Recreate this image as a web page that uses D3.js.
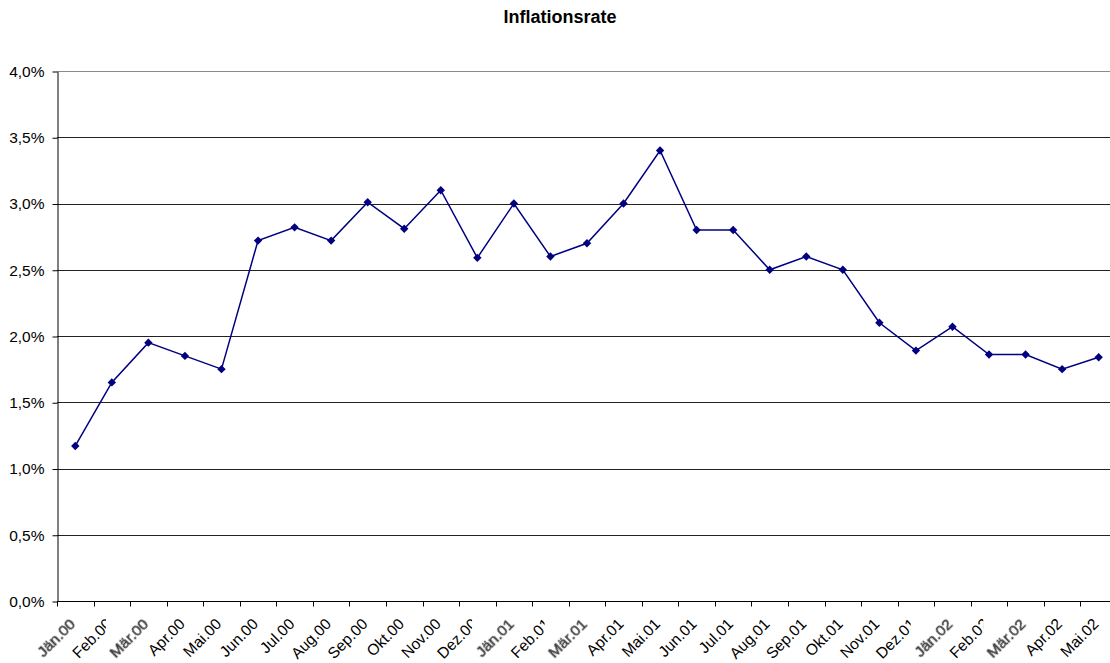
<!DOCTYPE html>
<html>
<head>
<meta charset="utf-8">
<script src="https://cdn.jsdelivr.net/npm/d3@7"></script>
<style>
  html, body { margin: 0; padding: 0; background: #fff; }
  svg { display: block; font-family: "Liberation Sans", Arial, sans-serif; }
</style>
</head>
<body>
<svg id="chart" width="1110" height="663"></svg>
<script>
// Monthly inflation rate, January 2000 to May 2002 (percent)
const months = [
  "Jän.00", "Feb.00", "Mär.00", "Apr.00", "Mai.00", "Jun.00", "Jul.00", "Aug.00", "Sep.00", "Okt.00", "Nov.00", "Dez.00",
  "Jän.01", "Feb.01", "Mär.01", "Apr.01", "Mai.01", "Jun.01", "Jul.01", "Aug.01", "Sep.01", "Okt.01", "Nov.01", "Dez.01",
  "Jän.02", "Feb.02", "Mär.02", "Apr.02", "Mai.02"
];
const rate = [
  1.17, 1.65, 1.95, 1.85, 1.75, 2.72, 2.82, 2.72, 3.01, 2.81, 3.10, 2.59,
  3.00, 2.60, 2.70, 3.00, 3.40, 2.80, 2.80, 2.50, 2.60, 2.50, 2.10, 1.89,
  2.07, 1.86, 1.86, 1.75, 1.84
];
const yTicks = [0, 0.5, 1.0, 1.5, 2.0, 2.5, 3.0, 3.5, 4.0];
// Month labels that are drawn in a softer grey with an opaque backing
const softLabels = ["Jän.00", "Mär.00", "Jän.01", "Mär.01", "Jän.02", "Mär.02"];

const svg = d3.select("#chart");
const plotLeft = 57, plotTop = 71, plotBottom = 601;
const step = 36.55;

const x = d3.scaleBand().domain(months).range([plotLeft, plotLeft + months.length * step]).paddingInner(0).paddingOuter(0);
const y = d3.scaleLinear().domain([0, 4]).range([plotBottom, plotTop]);
const fmt = v => d3.format(".1f")(v).replace(".", ",") + "%";

const defs = svg.append("defs");
defs.append("filter").attr("id", "soft").attr("x", "-10%").attr("y", "-10%").attr("width", "120%").attr("height", "120%")
  .append("feGaussianBlur").attr("stdDeviation", 0.6);

// Title
svg.append("text")
  .attr("x", 560).attr("y", 23)
  .attr("text-anchor", "middle")
  .attr("font-size", 18).attr("font-weight", "bold")
  .text("Inflationsrate");

// Horizontal gridlines
svg.append("g").selectAll("line").data(yTicks.filter(d => d > 0)).join("line")
  .attr("x1", plotLeft).attr("x2", x.range()[1])
  .attr("y1", d => Math.round(y(d)) + 0.5).attr("y2", d => Math.round(y(d)) + 0.5)
  .attr("stroke", d => d === 4 ? "#8a8a8a" : "#222").attr("stroke-width", 1);

// Y axis
const yAxis = svg.append("g")
  .attr("transform", `translate(${plotLeft + 0.5},0.5)`)
  .call(d3.axisLeft(y).tickValues(yTicks).tickFormat(fmt).tickSize(5).tickSizeOuter(0).tickPadding(8));
yAxis.select(".domain").attr("stroke", "#000");
yAxis.selectAll(".tick line").attr("stroke", "#000");
yAxis.selectAll(".tick text").attr("font-size", 15.5).attr("fill", "#000")
  .attr("font-family", "Liberation Sans, Arial, sans-serif");

// X axis with ticks on band boundaries
const xg = svg.append("g").attr("transform", `translate(0,${plotBottom + 0.5})`);
xg.append("line").attr("x1", plotLeft).attr("x2", x.range()[1]).attr("stroke", "#000");
xg.selectAll("line.tick").data(d3.range(months.length + 1)).join("line")
  .attr("class", "tick")
  .attr("x1", i => Math.round(plotLeft + i * step) + 0.5).attr("x2", i => Math.round(plotLeft + i * step) + 0.5)
  .attr("y1", 0).attr("y2", 5).attr("stroke", "#000");

// Rotated month labels
const labels = svg.append("g");
months.forEach(m => {
  const cx = x(m) + x.bandwidth() / 2;
  const g = labels.append("g").attr("transform", `translate(${cx + 1},625)`);
  const soft = softLabels.includes(m);
  const t = g.append("text")
    .attr("text-anchor", "end")
    .attr("transform", "rotate(-45)")
    .attr("font-size", 15.5)
    .attr("fill", soft ? "#3c3c3c" : "#000")
    .text(m);
  if (soft) {
    // opaque backing box in screen orientation, covering whatever lies beneath
    const b = t.node().getBBox();
    const c = Math.SQRT1_2;
    const pts = [[b.x, b.y], [b.x + b.width, b.y], [b.x + b.width, b.y + b.height], [b.x, b.y + b.height]]
      .map(([px, py]) => [c * px + c * py, -c * px + c * py]);
    const xs = pts.map(p => p[0]), ys = pts.map(p => p[1]);
    g.insert("rect", "text")
      .attr("x", d3.min(xs)).attr("y", d3.min(ys))
      .attr("width", d3.max(xs) - d3.min(xs)).attr("height", d3.max(ys) - d3.min(ys))
      .attr("fill", "#fff");
    t.attr("stroke", "#3c3c3c").attr("stroke-width", 0.5).attr("filter", "url(#soft)");
  }
});

// Line and markers
const cxOf = (d, i) => x(months[i]) + x.bandwidth() / 2;
svg.append("path")
  .datum(rate)
  .attr("fill", "none").attr("stroke", "#000080").attr("stroke-width", 1.5)
  .attr("d", d3.line().x(cxOf).y(d => y(d)));

svg.append("g").selectAll("path").data(rate).join("path")
  .attr("transform", (d, i) => `translate(${cxOf(d, i)},${y(d)})`)
  .attr("d", "M0,-4.2L4.2,0L0,4.2L-4.2,0Z")
  .attr("fill", "#000080");
</script>
</body>
</html>
